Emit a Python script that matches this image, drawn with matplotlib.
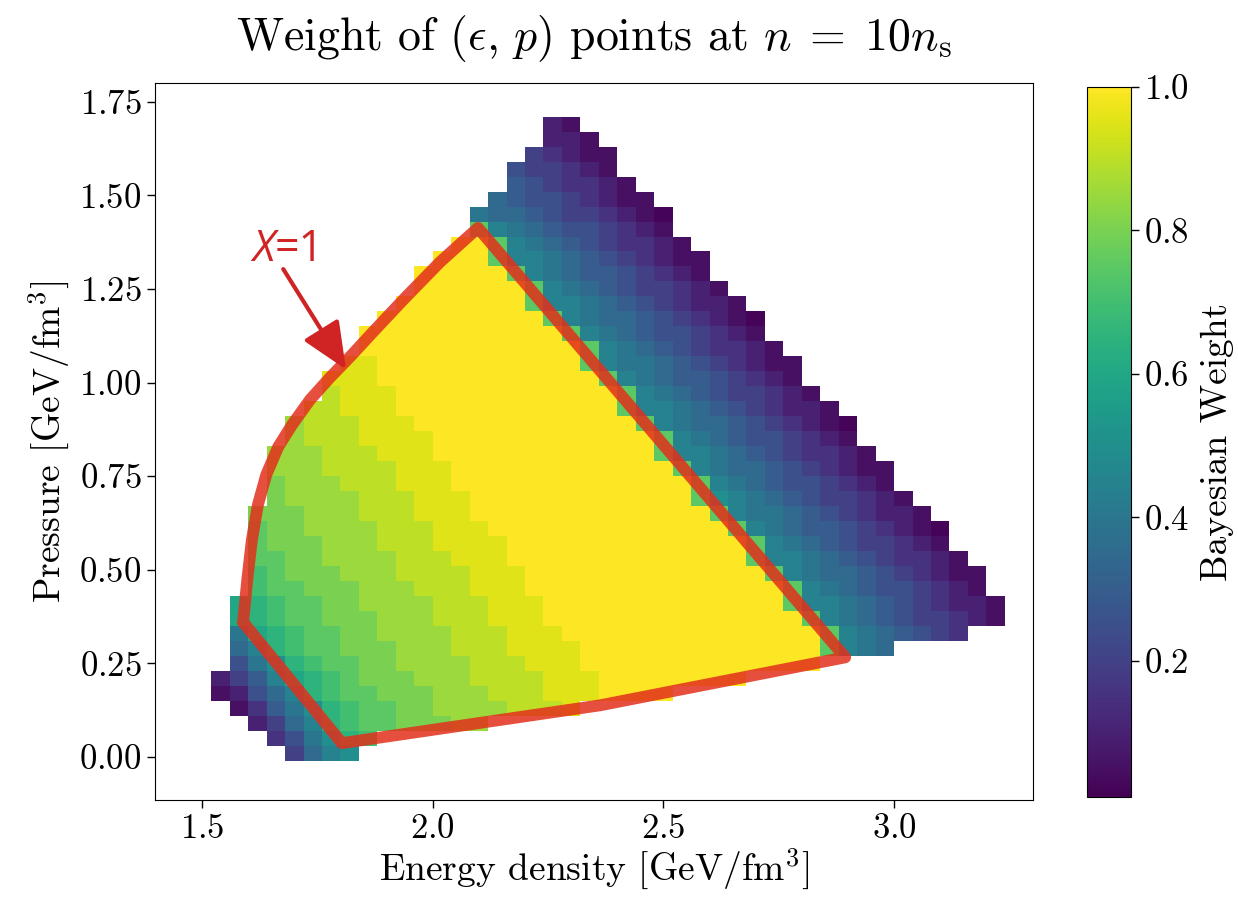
import numpy as np
import matplotlib
matplotlib.use('Agg')
import matplotlib.pyplot as plt

plt.rcParams['font.family'] = 'cmr10'
plt.rcParams['mathtext.fontset'] = 'cm'
plt.rcParams['axes.formatter.use_mathtext'] = True

# weight of a cell = index in LEVELS / 20
LEVELS = '0123456789ABCDEFGHIJK'

# cells are 0.04 x 0.04 GeV/fm^3, first column at eps = 1.54,
# rows listed from the top (p = 1.69) down to p = 0.01
EPS_FIRST = 1.54
P_TOP = 1.69
CELL = 0.04
N_COLS = 43

ROW_START = [18, 18, 17, 16, 16, 15, 14, 14, 13, 12, 11, 11, 10, 9, 8, 8, 7, 6, 6, 5, 4, 4,
             3, 3, 3, 3, 2, 2, 2, 2, 2, 2, 1, 1, 1, 1, 1, 0, 0, 1, 2, 3, 4]
ROW_CELLS = [
    '21',
    '221',
    '43211',
    '544321',
    '6543321',
    '765543211',
    '87765443210',
    'F9876554321',
    'KKF9876543321',
    'KKKF99876543211',
    'KKKKKF9876654321',
    'KKKKKKF9876544321',
    'KKKKKKKF99876543221',
    'KKKKKKKKKF98776543210',
    'KKKKKKKKKKKF9876554321',
    'KKKKKKKKKKKKF9876543321',
    'JJKKKKKKKKKKKF98876543211',
    'JJJKKKKKKKKKKKKF9876654321',
    'IJJJKKKKKKKKKKKKF9876544321',
    'IIJJJKKKKKKKKKKKKF99876543221',
    'HIIIJJJKKKKKKKKKKKKF98776543210',
    'HIIIJJJJKKKKKKKKKKKKF9876554321',
    'HHHIIIJJJKKKKKKKKKKKKF99876543321',
    'HHHIIIIJJJKKKKKKKKKKKKF98776543211',
    'GHHHIIIJJJKKKKKKKKKKKKKF9876554321',
    'GHHHHIIIJJJKKKKKKKKKKKKFA9876544321',
    'GGGHHHIIIJJJKKKKKKKKKKKKKF98876543221',
    'FGGHHHHIIIJJJKKKKKKKKKKKKKF98766543210',
    'FGGGHHHIIIJJJJKKKKKKKKKKKKKF9876544321',
    'FFGGHHHHIIIJJJKKKKKKKKKKKKKF99876543321',
    'EFGGGHHHIIIIJJJKKKKKKKKKKKKKF98776543211',
    'EFFGGGHHHIIIJJJKKKKKKKKKKKKKKF9876554321',
    'CDEFFGGHHHHIIIJJJKKKKKKKKKKKKKF99876543221',
    'CDEFFGGGHHHIIIJJJKKKKKKKKKKKKKKF9876544321',
    '8CDEFFGGHHHHIIIJJJKKKKKKKKKKKKKKF9876543',
    '79DEFFGGGHHHIIIJJJJKKKKKKKKKKKKKF987',
    '58ADEFFGGHHHHIIIJJJKKKKKKKKKKKKK',
    '2469CDEFGGGHHHIIIIJJJKKKKKKKK',
    '12579DEFFGGGHHHIIIJJJKKKK',
    '1368ADEFFGGHHHHIIIJ',
    '2479DEFFGGGHH',
    '358ADE',
    '479A',
]

# X = 1 boundary
X1_EPS = [1.589, 1.598, 1.608, 1.621, 1.639, 1.665, 1.695, 1.734, 1.777, 1.821, 1.875,
          1.940, 2.016, 2.098, 2.894, 2.363, 1.803]
X1_P = [0.360, 0.473, 0.580, 0.673, 0.753, 0.828, 0.887, 0.954, 1.013, 1.069, 1.141,
        1.226, 1.322, 1.413, 0.266, 0.138, 0.037]

RED_LINE = '#e2301c'
RED_TEXT = '#d02424'

n_rows = len(ROW_CELLS)
weight = np.full((n_rows, N_COLS), np.nan)
for i, (start, cells) in enumerate(zip(ROW_START, ROW_CELLS)):
    for j, ch in enumerate(cells):
        weight[n_rows - 1 - i, start + j] = max(LEVELS.index(ch) / 20, 0.02)
weight = np.ma.masked_invalid(weight)

eps_edges = EPS_FIRST - CELL / 2 + CELL * np.arange(N_COLS + 1)
p_bottom = P_TOP - (n_rows - 1) * CELL
p_edges = p_bottom - CELL / 2 + CELL * np.arange(n_rows + 1)

fig = plt.figure(figsize=(12.38, 9.05), dpi=100)
ax = fig.add_axes([0.1252, 0.116, 0.7092, 0.7923])
cax = fig.add_axes([0.878, 0.1193, 0.0355, 0.7845])

mesh = ax.pcolormesh(eps_edges, p_edges, weight, cmap='viridis', vmin=0.01, vmax=1.0,
                     shading='flat', antialiased=False, edgecolors='face', linewidth=0)

ax.plot(X1_EPS + [X1_EPS[0]], X1_P + [X1_P[0]], color=RED_LINE, lw=8.5, alpha=0.85,
        solid_joinstyle='round', solid_capstyle='round')

tx = ax.text(1.608, 1.324, 'X', color=RED_TEXT, fontsize=31, family='Open Sans',
             style='italic', va='baseline')
ax.annotate('=1', xy=(1, 0), xycoords=tx, va='bottom', ha='left', color=RED_TEXT,
            fontsize=31, family='Open Sans')
ax.annotate('', xy=(1.812, 1.035), xytext=(1.676, 1.303),
            arrowprops=dict(arrowstyle='-|>,head_length=0.5,head_width=0.22',
                            mutation_scale=58, lw=3, color=RED_TEXT,
                            shrinkA=0, shrinkB=0))

ax.set_xlim(1.398, 3.301)
ax.set_ylim(-0.115, 1.80)
ax.set_xticks([1.5, 2.0, 2.5, 3.0])
ax.set_yticks([0.0, 0.25, 0.5, 0.75, 1.0, 1.25, 1.5, 1.75])
ax.tick_params(labelsize=25, length=6, width=1)
ax.set_xlabel(r'Energy density [GeV/fm$^3$]', fontsize=27, labelpad=1)
ax.set_ylabel(r'Pressure [GeV/fm$^3$]', fontsize=27, labelpad=6)
ax.set_title(r'Weight of $(\epsilon,\, p)$ points at $n\; =\; 10n_{\rm s}$',
             fontsize=33, pad=24)

cb = fig.colorbar(mesh, cax=cax, ticks=[0.2, 0.4, 0.6, 0.8, 1.0])
cb.ax.tick_params(labelsize=25, length=6, width=1)
cb.set_label('Bayesian Weight', fontsize=27, labelpad=8)

fig.savefig('out.png', dpi=100)
